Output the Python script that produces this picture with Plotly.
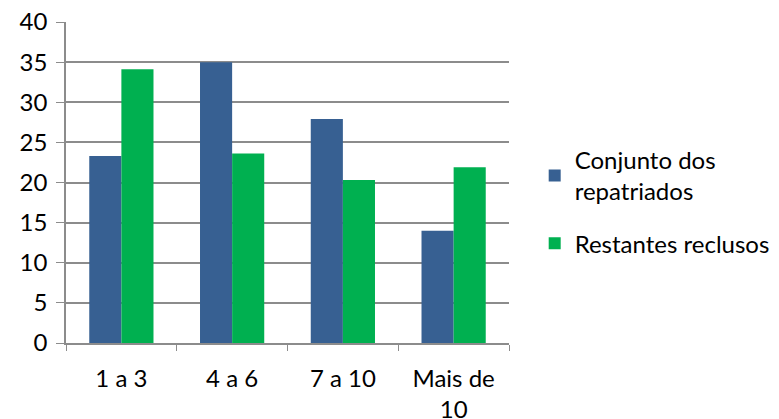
import plotly.graph_objects as go

BLUE = '#376092'
GREEN = '#00B050'
GRID = '#8C8C8C'

categorias = ['1 a 3', '4 a 6', '7 a 10', 'Mais de<br>10']
repatriados = [23.3, 35.0, 27.9, 14.0]
restantes = [34.1, 23.6, 20.3, 21.9]

fig = go.Figure()
fig.add_trace(go.Bar(x=categorias, y=repatriados, name='Conjunto dos<br>repatriados',
                     legendgroup='a', marker_color=BLUE, marker_line_width=0))
fig.add_trace(go.Bar(x=categorias, y=restantes, name='Restantes reclusos',
                     legendgroup='b', marker_color=GREEN, marker_line_width=0))

# the page body adds an 8px offset, so the figure is 8px smaller each way
fig.update_layout(
    width=771, height=411,
    font=dict(family='Lato, Open Sans, sans-serif', size=24, color='#000000'),
    paper_bgcolor='white', plot_bgcolor='white',
    margin=dict(l=58, r=270, t=14, b=76, autoexpand=False),
    barmode='group', bargap=0.42, bargroupgap=0,
    showlegend=True,
    legend=dict(x=1.058, y=0.44, xanchor='left', yanchor='middle',
                traceorder='grouped', tracegroupgap=18, itemwidth=30,
                font=dict(size=24)),
)
fig.update_xaxes(
    showline=True, linecolor=GRID, linewidth=1.5,
    ticks='outside', tickson='boundaries', ticklen=6, tickcolor=GRID,
    ticklabelstandoff=13, showgrid=False, automargin=False,
    ticklabeloverflow='allow',
)
fig.update_yaxes(
    range=[0, 40], dtick=5,
    showline=True, linecolor=GRID, linewidth=1.5,
    ticks='outside', ticklen=8, tickcolor=GRID,
    showgrid=True, gridcolor=GRID, gridwidth=1.5,
    ticklabelstandoff=4, zeroline=False, automargin=False,
    ticklabeloverflow='allow',
)

fig.write_html('out.html')
